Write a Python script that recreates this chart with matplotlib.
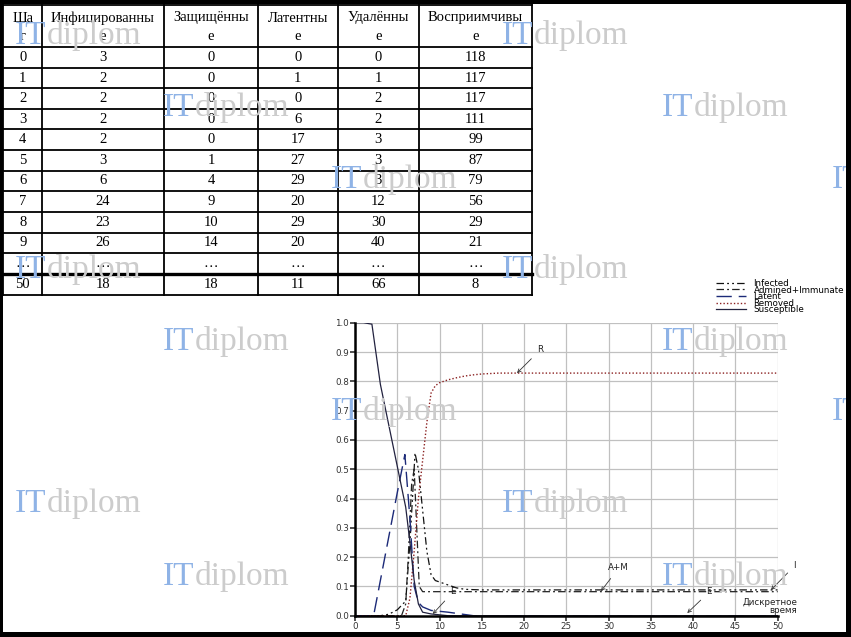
import numpy as np
import matplotlib
matplotlib.use("Agg")
import matplotlib.pyplot as plt
from matplotlib.patches import Rectangle

# --- table data ---
head_top = ["Ша", "Инфицированны", "Защищённы", "Латентны", "Удалённы", "Восприимчивы"]
head_bot = ["г", "е", "е", "е", "е", "е"]
steps = ["0", "1", "2", "3", "4", "5", "6", "7", "8", "9", "…", "50"]
infected_tab = ["3", "2", "2", "2", "2", "3", "6", "24", "23", "26", "…", "18"]
protected_tab = ["0", "0", "0", "0", "0", "1", "4", "9", "10", "14", "…", "18"]
latent_tab = ["0", "1", "0", "6", "17", "27", "29", "20", "29", "20", "…", "11"]
removed_tab = ["0", "1", "2", "2", "3", "3", "3", "12", "30", "40", "…", "66"]
suscept_tab = ["118", "117", "117", "111", "99", "87", "79", "56", "29", "21", "…", "8"]

# --- chart data ---
t_s = [0, 1, 2, 3, 4, 5, 6, 6.5, 7, 7.5, 8, 9, 10, 11, 50]
susceptible = [1.0, 1.0, 0.995, 0.79, 0.65, 0.51, 0.37, 0.25, 0.12, 0.04, 0.012, 0.006, 0.003, 0.0, 0.0]

t_l = [0, 2.2, 3, 4, 5, 5.9, 6.5, 7, 7.5, 8, 9, 10, 11, 12, 13, 14, 50]
latent = [0, 0, 0.12, 0.27, 0.42, 0.55, 0.33, 0.1, 0.045, 0.03, 0.018, 0.015, 0.012, 0.008, 0.004, 0.0, 0.0]

t_i = [0, 3, 4, 5, 6, 6.5, 7.1, 7.5, 8, 8.5, 9, 9.5, 10, 11, 12, 13, 15, 20, 50]
infected = [0, 0, 0.005, 0.02, 0.05, 0.25, 0.555, 0.5, 0.36, 0.22, 0.14, 0.12, 0.115, 0.105, 0.095, 0.09, 0.088, 0.088, 0.088]

t_am = [0, 5.5, 6, 6.3, 6.7, 7, 7.3, 7.6, 8, 50]
admined = [0, 0, 0.04, 0.2, 0.45, 0.5, 0.3, 0.1, 0.082, 0.082]

t_r = [0, 6, 6.5, 7, 7.5, 8, 8.5, 9, 9.5, 10, 11, 12, 13, 14, 15, 17, 20, 50]
removed = [0, 0, 0.06, 0.22, 0.4, 0.53, 0.66, 0.76, 0.785, 0.795, 0.805, 0.812, 0.818, 0.822, 0.825, 0.828, 0.828, 0.828]

W, H = 851, 637
fig = plt.figure(figsize=(W / 100, H / 100), dpi=100)

# background axes in pixel coords: table
bg = fig.add_axes([0, 0, 1, 1], zorder=-1)
bg.set_xlim(0, W)
bg.set_ylim(H, 0)
bg.axis("off")

col_x = [3.4, 42, 164, 258, 337.5, 419, 532]
row_y = [5, 47, 68, 88.3, 109, 129.3, 150, 170.7, 191, 212, 232.7, 253.3, 274, 295]
for x in col_x:
    bg.plot([x, x], [row_y[0], row_y[-1]], color="black", lw=1.3)
for i, y in enumerate(row_y):
    bg.plot([col_x[0], col_x[-1]], [y, y], color="black", lw=2.4 if i == 12 else 1.3)

tfont = dict(family="Liberation Serif", fontsize=10.5, color="black", ha="center", va="center")
centers = [(col_x[i] + col_x[i + 1]) / 2 for i in range(6)]
for c, top, bot in zip(centers, head_top, head_bot):
    bg.text(c, 18, top, **tfont)
    bg.text(c, 37, bot, **tfont)
columns = [steps, infected_tab, protected_tab, latent_tab, removed_tab, suscept_tab]
for j, col in enumerate(columns):
    for i, val in enumerate(col):
        yc = (row_y[i + 1] + row_y[i + 2]) / 2
        bg.text(centers[j], yc, val, **tfont)

# --- chart ---
ax = fig.add_axes([355 / W, (H - 615.7) / H, 422.7 / W, 293 / H])
ax.plot(t_i, infected, color="#111111", lw=0.9, ls=(0, (6, 2.5, 1.5, 2.5, 1.5, 2.5)), label="Infected")
ax.plot(t_am, admined, color="#222222", lw=0.9, ls=(0, (6, 2.5, 1.5, 2.5)), label="Admined+Immunate")
ax.plot(t_l, latent, color="#1c2a78", lw=1.0, ls=(0, (11, 5)), label="Latent")
ax.plot(t_r, removed, color="#8b2020", lw=1.0, ls=(0, (1, 1.5)), label="Removed")
ax.plot(t_s, susceptible, color="#22223f", lw=0.9, ls="-", label="Susceptible")

ax.set_xlim(0, 50)
ax.set_ylim(0, 1)
ax.set_xticks(range(0, 51, 5))
ax.set_yticks(np.arange(0, 1.01, 0.1))
ax.set_yticklabels([f"{v:.1f}" for v in np.arange(0, 1.01, 0.1)])
ax.grid(True, color="#c0c0c0", lw=0.9)
ax.set_axisbelow(True)
for s in ["top", "right"]:
    ax.spines[s].set_visible(False)
for s in ["left", "bottom"]:
    ax.spines[s].set_linewidth(1.8)
ax.tick_params(labelsize=6.3, colors="#333333", length=3.5, width=1.2, pad=1)

ann = dict(fontsize=6.3, ha="center", va="center", color="#222222", annotation_clip=False,
           arrowprops=dict(arrowstyle="->", lw=0.6, color="#333333", shrinkA=3, shrinkB=0, mutation_scale=6))
ax.annotate("R", xy=(19.16, 0.828), xytext=(21.9, 0.907), **ann)
ax.annotate("A+M", xy=(29.1, 0.084), xytext=(31.2, 0.163), **ann)
ax.annotate("I", xy=(49.2, 0.088), xytext=(52.0, 0.17), **ann)
ax.annotate("E", xy=(39.3, 0.009), xytext=(41.9, 0.081), **ann)
ax.annotate("E", xy=(9.2, 0.006), xytext=(11.6, 0.081), **ann)
ax.text(52.3, 0.031, "Дискретное\nвремя", fontsize=6.3, ha="right", va="center",
        multialignment="right", linespacing=0.8, color="#222222")

ax.legend(loc="upper left", bbox_to_anchor=(716 / W, 1 - 279 / H), bbox_transform=fig.transFigure,
          frameon=False, fontsize=6.3, borderpad=0, borderaxespad=0, handlelength=3.4,
          handletextpad=0.9, labelspacing=-0.28)

# watermarks
wm_x = [[15, 502], [163, 662], [331, 832]]
wm_y = [44, 116, 188, 278, 350, 420, 512, 585]
for k, yb in enumerate(wm_y):
    for xl in wm_x[k % 3]:
        fig.text(xl / W, 1 - yb / H, "IT", family="Liberation Serif", fontsize=24,
                 color="#8fb3e6", va="baseline", ha="left", zorder=10)
        fig.text((xl + 32) / W, 1 - yb / H, "diplom", family="Liberation Serif", fontsize=24,
                 color="#cccccc", va="baseline", ha="left", zorder=10)

# black frame round the picture, on top of everything
for x0, y0, w, h in [(0, 0, W, 4), (0, 0, 3, H), (846, 0, 5, H), (0, 632, W, 5)]:
    fig.add_artist(Rectangle((x0 / W, 1 - (y0 + h) / H), w / W, h / H, transform=fig.transFigure,
                             color="black", lw=0, zorder=20))

fig.savefig("out.png", dpi=100)
